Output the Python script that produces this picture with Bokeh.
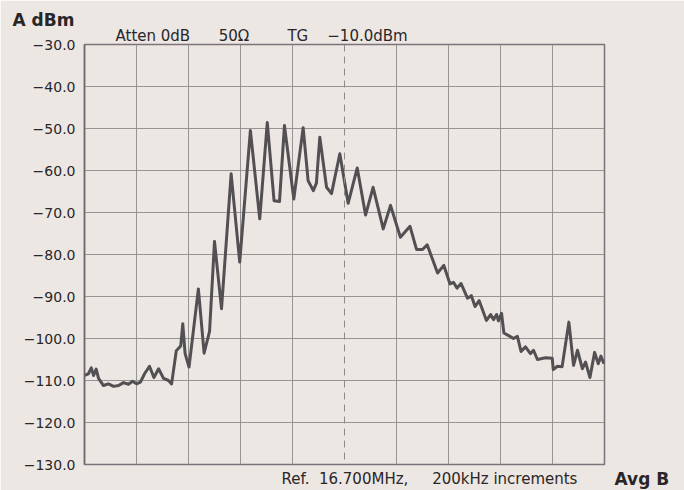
from bokeh.plotting import figure
from bokeh.models import Range1d, FixedTicker, Span, Label
from bokeh.embed import file_html
from bokeh.resources import INLINE

# ---- data (frequency in MHz, level in dBm) ----
freq_mhz = [15.700, 15.715, 15.726, 15.735, 15.745, 15.754, 15.773, 15.792, 15.812, 15.831,
            15.850, 15.869, 15.885, 15.900, 15.915, 15.931, 15.950, 15.967, 15.985, 16.004,
            16.023, 16.035, 16.053, 16.070, 16.078, 16.087, 16.102, 16.138, 16.160, 16.181,
            16.200, 16.227, 16.264, 16.297, 16.338, 16.374, 16.403, 16.429, 16.450, 16.469,
            16.505, 16.541, 16.560, 16.580, 16.592, 16.605, 16.631, 16.650, 16.682, 16.714,
            16.749, 16.781, 16.810, 16.849, 16.877, 16.915, 16.952, 16.977, 17.000, 17.018,
            17.058, 17.082, 17.106, 17.119, 17.133, 17.148, 17.173, 17.188, 17.202, 17.218,
            17.246, 17.262, 17.273, 17.285, 17.292, 17.304, 17.313, 17.331, 17.350, 17.365,
            17.379, 17.396, 17.415, 17.427, 17.442, 17.473, 17.499, 17.503, 17.519, 17.537,
            17.563, 17.581, 17.596, 17.615, 17.627, 17.644, 17.662, 17.676, 17.686, 17.698]
level_dbm = [-108.8, -108.4, -107.0, -108.8, -107.3, -109.5, -111.2, -110.8, -111.4, -111.2,
             -110.5, -110.9, -110.2, -110.8, -110.4, -108.4, -106.6, -109.3, -107.2, -109.5,
             -110.0, -110.8, -102.9, -101.8, -96.5, -103.6, -106.8, -88.2, -103.5, -98.3,
             -76.9, -92.9, -60.8, -81.8, -50.5, -71.5, -48.6, -67.2, -67.4, -49.3,
             -66.8, -49.8, -62.4, -64.8, -63.0, -52.1, -64.0, -65.5, -56.0, -67.8,
             -59.4, -70.6, -64.0, -73.9, -68.3, -75.9, -73.3, -78.8, -78.8, -77.7,
             -84.4, -82.6, -87.0, -86.6, -88.0, -86.9, -90.4, -89.8, -92.4, -91.0,
             -95.7, -94.3, -95.5, -94.3, -95.8, -94.0, -98.7, -99.3, -100.0, -99.5,
             -103.1, -102.0, -103.6, -102.8, -105.0, -104.6, -104.7, -107.4, -106.6, -106.7,
             -96.1, -106.4, -102.8, -107.2, -105.6, -109.3, -103.3, -106.0, -104.2, -106.0]

y_ticks = [-130, -120, -110, -100, -90, -80, -70, -60, -50, -40, -30]
y_tick_labels = {t: "\u2212%.1f" % abs(t) for t in y_ticks}
x_grid = [15.7, 15.9, 16.1, 16.3, 16.5, 16.9, 17.1, 17.3, 17.5, 17.7]
ref_freq = 16.7

NB = "\u00a0"
y_title = "A dBm"
header = "Atten 0dB" + NB * 6 + "50\u03a9" + NB * 8 + "TG" + NB * 4 + "\u221210.0dBm"
footer = "Ref." + NB * 2 + "16.700MHz," + NB * 5 + "200kHz increments"
corner = "Avg B"

W, H = 684, 490
BG = "#ece7e3"
GRID = "#8e8b8c"
TEXT = "#2a2628"

p = figure(width=W, height=H, output_backend="svg", toolbar_location=None,
           x_axis_location=None,
           x_range=Range1d(15.7, 17.7), y_range=Range1d(-130, -30),
           min_border_left=84, min_border_right=80, min_border_top=44, min_border_bottom=26)
p.background_fill_color = BG
p.border_fill_color = BG
p.outline_line_color = "#7a7379"
p.outline_line_width = 1.5

p.xgrid.ticker = FixedTicker(ticks=x_grid)
p.ygrid.ticker = FixedTicker(ticks=y_ticks)
for g in (p.xgrid, p.ygrid):
    g.grid_line_color = GRID
    g.grid_line_width = 1
    g.grid_line_alpha = 0.9

p.add_layout(Span(location=ref_freq, dimension="height", line_color=GRID,
                  line_width=1, line_dash="7 5"))

ax = p.yaxis[0]
ax.ticker = FixedTicker(ticks=y_ticks)
ax.major_label_overrides = y_tick_labels
ax.major_tick_line_color = None
ax.minor_tick_line_color = None
ax.axis_line_color = "#6e6670"
ax.axis_line_width = 1.5
ax.major_label_standoff = 3
ax.major_label_text_font = "DejaVu Sans"
ax.major_label_text_font_size = "14px"
ax.major_label_text_color = TEXT

p.line(freq_mhz, level_dbm, line_color="#525052", line_width=3, line_join="round")

def lab(x, y_top, t, place, size="15px", bold=False):
    # x, y_top: canvas pixels from the figure's top-left corner
    p.add_layout(Label(x=x, y=y_top, x_units="canvas", y_units="canvas", text=t,
                       text_font="DejaVu Sans", text_font_size=size,
                       text_font_style="bold" if bold else "normal", text_color=TEXT,
                       text_baseline="alphabetic", text_align="left"), place)

lab(12, 19, y_title, "above", "17px", True)
lab(115, 35.5, header, "above")
lab(281, 478.5, footer, "below")
lab(614, 478.5, corner, "right", "17px", True)

html = file_html(p, INLINE)
html = html.replace("<body>", '<body style="background-color:#ece7e3;">', 1)
open("out.html", "w").write(html)
